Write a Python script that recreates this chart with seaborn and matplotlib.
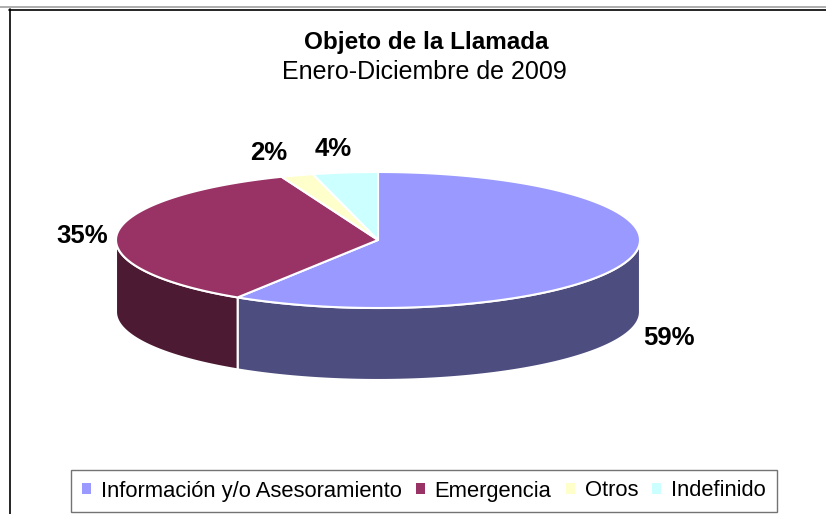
import numpy as np
import matplotlib
matplotlib.use("Agg")
import matplotlib.pyplot as plt
from matplotlib.patches import Polygon, Patch
import seaborn as sns

# ---- data ----
categories = ["Información y/o Asesoramiento", "Emergencia", "Otros", "Indefinido"]
values = [59, 35, 2, 4]
top_colors = ["#9999FF", "#993366", "#FFFFCC", "#CCFFFF"]
side_colors = ["#4D4D80", "#4D1A33", "#808066", "#668080"]
title = "Objeto de la Llamada"
subtitle = "Enero-Diciembre de 2009"

# label nudges (layout only, pixels)
label_dx = [6, 0, -18, -8]
label_dy = [0, 5, 0, 0]

sns.set_style("white")
plt.rcParams["font.family"] = ["Liberation Sans", "DejaVu Sans"]
plt.rcParams["text.color"] = "black"

W, H = 826, 514
fig = plt.figure(figsize=(W / 100, H / 100), dpi=100)
ax = fig.add_axes([0, 0, 1, 1])
ax.set_xlim(0, W)
ax.set_ylim(H, 0)
ax.axis("off")

# frame
ax.plot([0, W], [7, 7], color="#A0A0A0", lw=1.2)
ax.plot([9, W], [9.5, 9.5], color="black", lw=1.2)
ax.plot([9.5, 9.5], [9, H], color="black", lw=1.2)

# pie geometry (pixel layout)
cx, cy, rx, ry, depth = 378, 240, 262, 68, 72


def pt(a, dy=0.0):
    r = np.deg2rad(a)
    return cx + rx * np.cos(r), cy - ry * np.sin(r) + dy


total = float(sum(values))
cum = np.concatenate([[0], np.cumsum(values)])
starts = 90 - 360 * cum[:-1] / total
ends = 90 - 360 * cum[1:] / total

# side faces (front half: angles in [-180, 0] mod 360)
for a1, a2, sc in zip(starts, ends, side_colors):
    for k in (-1, 0, 1):
        lo, hi = -180 + 360 * k, 0 + 360 * k
        s_hi, s_lo = min(a1, hi), max(a2, lo)
        if s_hi > s_lo:
            ang = np.linspace(s_hi, s_lo, 120)
            topp = [pt(a) for a in ang]
            botp = [pt(a, depth) for a in ang[::-1]]
            ax.add_patch(Polygon(topp + botp, closed=True, facecolor=sc,
                                 edgecolor="white", lw=1.5, joinstyle="round"))

# top faces
for a1, a2, tc in zip(starts, ends, top_colors):
    ang = np.linspace(a1, a2, 200)
    poly = [(cx, cy)] + [pt(a) for a in ang]
    ax.add_patch(Polygon(poly, closed=True, facecolor=tc,
                         edgecolor="white", lw=1.5, joinstyle="round"))

# labels
for a1, a2, v, dx, dy in zip(starts, ends, values, label_dx, label_dy):
    mid = np.deg2rad((a1 + a2) / 2)
    lx = cx + (rx + 35) * np.cos(mid) + dx
    ly = cy - (ry + 24) * np.sin(mid) + (depth if np.sin(mid) < 0 else 0) + dy
    ax.text(lx, ly, f"{v}%", ha="center", va="center", fontsize=18.5,
            fontweight="bold", color="black")

# titles
ax.text(426, 42, title, ha="center", va="center", fontsize=17.5, fontweight="bold",
        color="black")
ax.text(424, 72, subtitle, ha="center", va="center", fontsize=18, color="black")

# legend
handles = [Patch(facecolor=c, edgecolor="none") for c in top_colors]
leg = ax.legend(handles, categories, loc="center", bbox_to_anchor=(424 / W, 1 - 491 / H),
                ncol=4, frameon=True, fontsize=15.8, handlelength=0.4, handleheight=0.4,
                handletextpad=0.45, columnspacing=0.65, borderpad=0.5, fancybox=False,
                borderaxespad=0)
for t in leg.get_texts():
    t.set_color("black")
leg.get_frame().set_edgecolor("#505050")
leg.get_frame().set_linewidth(1.0)

fig.savefig("out.png", dpi=100)
